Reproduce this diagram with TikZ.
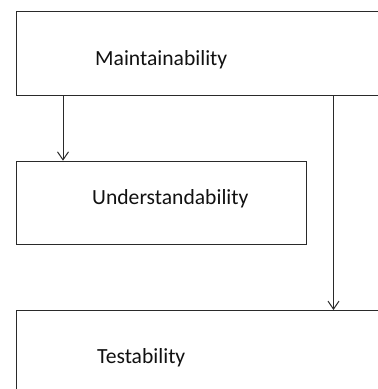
\documentclass[tikz,border=0pt]{standalone}
\usepackage{fontspec}
\setmainfont{Carlito}
\usetikzlibrary{arrows.meta}
\definecolor{ln}{HTML}{2A2A2A}
\definecolor{tx}{HTML}{111111}
\begin{document}
\begin{tikzpicture}[x=1pt,y=-1pt,
  box/.style={draw=ln,line width=1pt,rectangle,inner sep=0pt,anchor=north west},
  lbl/.style={text=tx,font=\fontsize{21.6}{24}\selectfont,inner sep=0pt,anchor=base west},
  arr/.style={draw=ln,line width=1pt,-{Straight Barb[length=8pt,width=11pt,line width=1pt]}}]
\clip (0,0) rectangle (378,389);
\fill[white] (0,0) rectangle (378,389);
\node[box,minimum width=400pt,minimum height=84pt] (m) at (16,11) {};
\node[box,minimum width=289.5pt,minimum height=83.5pt] (u) at (16,160.7) {};
\node[box,minimum width=400pt,minimum height=100pt] (t) at (16,310) {};
\node[lbl] (ml) at (95,65) {Maintainability};
\node[lbl] (ul) at (92,204) {Understandability};
\node[lbl] (tl) at (97,363) {Testability};
\draw[arr] ([xshift=47pt]m.south west) -- ([xshift=47pt]u.north west);
\draw[arr] ([xshift=317.5pt]m.south west) -- ([xshift=317.5pt]t.north west);
\end{tikzpicture}
\end{document}
